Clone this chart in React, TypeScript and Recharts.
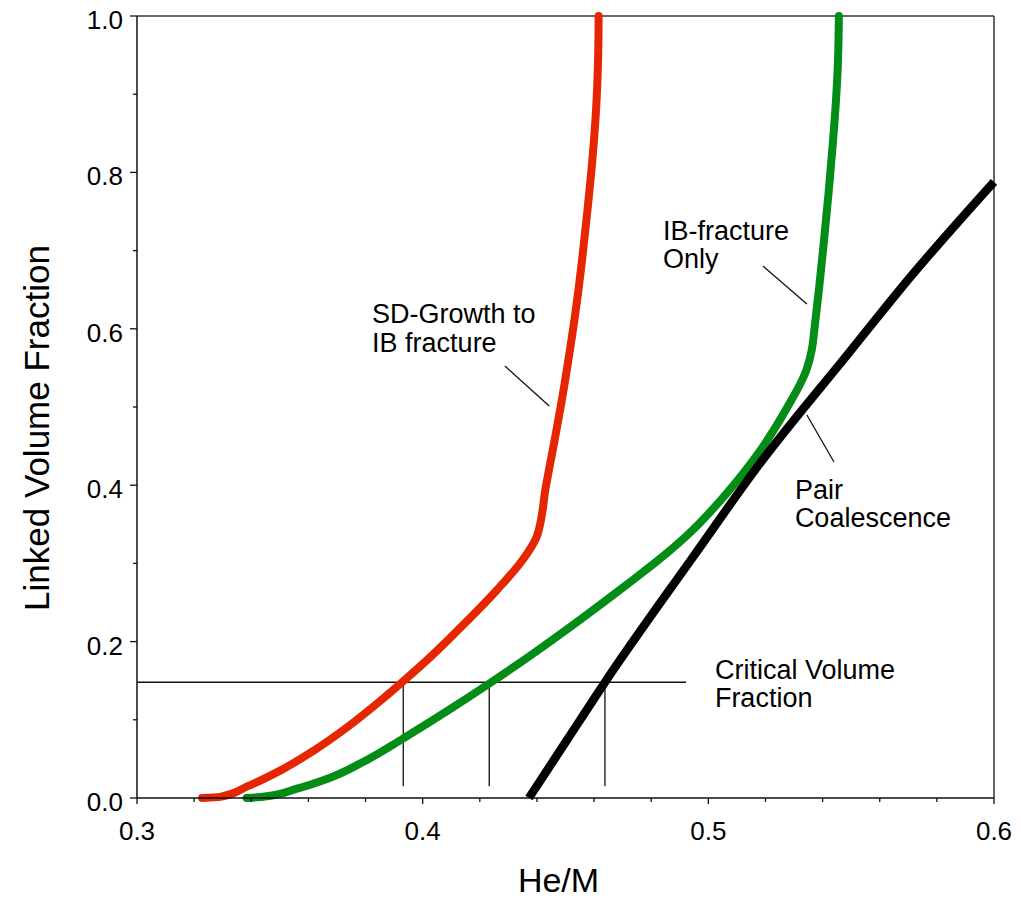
import React from 'react';
import { LineChart, Line, XAxis, YAxis, ReferenceLine, ReferenceDot } from 'recharts';

const FONT = "'Liberation Sans', Arial, Helvetica, sans-serif";

// Axis ticks (minor + major) and the majors that carry labels
const xTicks = [0.3, 0.32, 0.34, 0.36, 0.38, 0.4, 0.42, 0.44, 0.46, 0.48, 0.5, 0.52, 0.54, 0.56, 0.58, 0.6];
const xMajor = [0.3, 0.4, 0.5, 0.6];
const yTicks = [0, 0.1, 0.2, 0.3, 0.4, 0.5, 0.6, 0.7, 0.8, 0.9, 1.0];
const yMajor = [0, 0.2, 0.4, 0.6, 0.8, 1.0];

// He/M vs linked volume fraction
const sdGrowthToIB: [number, number][] = [
  [0.3228, 0], [0.3291, 0.0015], [0.3384, 0.0145], [0.3501, 0.035], [0.3616, 0.06],
  [0.3734, 0.09], [0.3851, 0.124], [0.3931, 0.149], [0.4026, 0.18], [0.4141, 0.221],
  [0.426, 0.266], [0.4351, 0.305], [0.44, 0.335], [0.4432, 0.4], [0.4458, 0.45],
  [0.4483, 0.5], [0.451, 0.56], [0.4536, 0.624], [0.4558, 0.688], [0.4577, 0.752],
  [0.4594, 0.816], [0.4607, 0.88], [0.4614, 0.944], [0.4616, 1.0],
];

const ibFractureOnly: [number, number][] = [
  [0.3384, 0], [0.3441, 0.0015], [0.356, 0.012], [0.3676, 0.026], [0.3791, 0.046],
  [0.3931, 0.076], [0.4085, 0.111], [0.4236, 0.147], [0.4376, 0.182], [0.4551, 0.228],
  [0.4715, 0.273], [0.4831, 0.306], [0.4946, 0.343], [0.5065, 0.39], [0.5181, 0.444],
  [0.5274, 0.498], [0.5344, 0.548], [0.5362, 0.573], [0.5372, 0.602], [0.5386, 0.646],
  [0.5404, 0.71], [0.5421, 0.774], [0.5436, 0.838], [0.5447, 0.893], [0.5454, 0.944],
  [0.5457, 1.0],
];

const pairCoalescence: [number, number][] = [
  [0.4372, 0], [0.4505, 0.074], [0.4638, 0.148], [0.4946, 0.308], [0.5181, 0.428],
  [0.5485, 0.566], [0.5716, 0.67], [0.6, 0.788],
];

// Critical volume fraction and where each curve reaches it
const criticalFraction = 0.148;
const criticalLineEnd = 0.4922;
const criticalCrossings = [0.3932, 0.4233, 0.4638];
const crossingFloor = 0.015;

// Leader lines from the notes to their curves
const leaders: [number, number, number, number][] = [
  [0.4288, 0.5524, 0.4443, 0.5013],
  [0.5191, 0.6803, 0.5345, 0.6317],
  [0.5345, 0.4898, 0.544, 0.4297],
];

const notes = [
  { x: 0.3823, y: 0.6074, lines: ['SD-Growth to', 'IB fracture'] },
  { x: 0.4841, y: 0.7136, lines: ['IB-fracture', 'Only'] },
  { x: 0.5303, y: 0.3824, lines: ['Pair', 'Coalescence'] },
  { x: 0.5023, y: 0.1522, lines: ['Critical Volume', 'Fraction'] },
];

const toPoints = (pts: [number, number][]) => pts.map(([x, y]) => ({ x, y }));

const isMajor = (list: number[], v: number) => list.some((m) => Math.abs(m - v) < 1e-6);

const XTick = (props: any) => {
  const { x, y, payload } = props;
  const major = isMajor(xMajor, payload.value);
  return (
    <g>
      <line x1={x} x2={x} y1={y} y2={y + (major ? 6 : 4)} stroke="#111" strokeWidth={1.3} />
      {major && (
        <text x={x} y={y + 42} textAnchor="middle" fontSize={26} fontFamily={FONT} fill="#000">
          {payload.value.toFixed(1)}
        </text>
      )}
    </g>
  );
};

const YTick = (props: any) => {
  const { x, y, payload } = props;
  const major = isMajor(yMajor, payload.value);
  return (
    <g>
      <line x1={x - (major ? 7 : 4)} x2={x} y1={y} y2={y} stroke="#111" strokeWidth={1.3} />
      {major && (
        <text x={x - 14} y={y + 13} textAnchor="end" fontSize={26} fontFamily={FONT} fill="#000">
          {payload.value.toFixed(1)}
        </text>
      )}
    </g>
  );
};

const NoteText = (lines: string[]) => (props: any) => {
  const { viewBox } = props;
  return (
    <text x={viewBox.x} y={viewBox.y} fontSize={27} fontFamily={FONT} fill="#000">
      {lines.map((l, i) => (
        <tspan key={i} x={viewBox.x} dy={i === 0 ? 0 : 28.5}>
          {l}
        </tspan>
      ))}
    </text>
  );
};

export default function App() {
  return (
    <div style={{ position: 'absolute', left: 0, top: 0, background: '#fff' }}>
      <LineChart width={1021} height={900} margin={{ top: 16, right: 27, left: 0, bottom: 0 }}>
        <XAxis
          dataKey="x"
          type="number"
          domain={[0.3, 0.6]}
          ticks={xTicks}
          interval={0}
          tickSize={0}
          tickMargin={0}
          tickLine={false}
          tick={<XTick />}
          height={102}
          axisLine={{ stroke: '#111', strokeWidth: 1.5 }}
          label={{
            content: (p: any) => (
              <text
                x={p.viewBox.x + p.viewBox.width / 2 - 7}
                y={p.viewBox.y + 94}
                textAnchor="middle"
                fontSize={34}
                fontFamily={FONT}
                fill="#000"
              >
                He/M
              </text>
            ),
          }}
        />
        <YAxis
          dataKey="y"
          type="number"
          domain={[0, 1]}
          ticks={yTicks}
          interval={0}
          tickSize={0}
          tickMargin={0}
          tickLine={false}
          tick={<YTick />}
          width={137}
          axisLine={{ stroke: '#111', strokeWidth: 1.5 }}
          label={{
            content: (p: any) => {
              const cx = 36;
              const cy = p.viewBox.y + p.viewBox.height / 2 + 21;
              return (
                <text
                  x={cx}
                  y={cy}
                  transform={`rotate(-90 ${cx} ${cy})`}
                  textAnchor="middle"
                  dominantBaseline="central"
                  fontSize={35}
                  fontFamily={FONT}
                  fill="#000"
                >
                  Linked Volume Fraction
                </text>
              );
            },
          }}
        />
        {/* frame: top and right edges */}
        <ReferenceLine y={1} stroke="#333" strokeWidth={1.3} />
        <ReferenceLine x={0.6} stroke="#333" strokeWidth={1.5} />

        {/* critical volume fraction construction */}
        <ReferenceLine
          segment={[{ x: 0.3, y: criticalFraction }, { x: criticalLineEnd, y: criticalFraction }]}
          stroke="#111"
          strokeWidth={1.3}
        />
        {criticalCrossings.map((cx, i) => (
          <ReferenceLine
            key={`v${i}`}
            segment={[{ x: cx, y: criticalFraction }, { x: cx, y: crossingFloor }]}
            stroke="#111"
            strokeWidth={1.3}
          />
        ))}
        {leaders.map(([x1, y1, x2, y2], i) => (
          <ReferenceLine
            key={`l${i}`}
            segment={[{ x: x1, y: y1 }, { x: x2, y: y2 }]}
            stroke="#111"
            strokeWidth={1.3}
          />
        ))}

        <Line
          data={toPoints(sdGrowthToIB)}
          dataKey="y"
          type="monotoneY"
          stroke="#E42700"
          strokeWidth={8}
          strokeLinecap="round"
          strokeLinejoin="round"
          dot={false}
          activeDot={false}
          isAnimationActive={false}
        />
        <Line
          data={toPoints(ibFractureOnly)}
          dataKey="y"
          type="monotoneY"
          stroke="#038C16"
          strokeWidth={8}
          strokeLinecap="round"
          strokeLinejoin="round"
          dot={false}
          activeDot={false}
          isAnimationActive={false}
        />
        <Line
          data={toPoints(pairCoalescence)}
          dataKey="y"
          type="monotoneX"
          stroke="#000"
          strokeWidth={8.5}
          strokeLinejoin="round"
          dot={false}
          activeDot={false}
          isAnimationActive={false}
        />

        {notes.map((n, i) => (
          <ReferenceDot
            key={`n${i}`}
            x={n.x}
            y={n.y}
            r={0}
            stroke="none"
            fill="none"
            label={NoteText(n.lines)}
          />
        ))}
      </LineChart>
    </div>
  );
}
